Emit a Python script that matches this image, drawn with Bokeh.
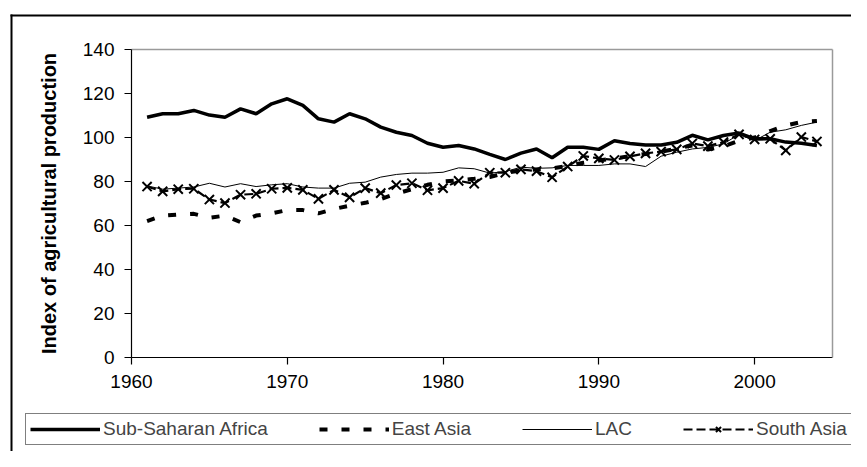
from bokeh.plotting import figure
from bokeh.models import Range1d, Legend, LegendItem, FixedTicker, LinearAxis
from bokeh.embed import file_html
from bokeh.resources import INLINE

years = list(range(1961, 2005))

ssa = [109.2, 110.8, 110.8, 112.3, 110.2, 109.2, 113.0, 110.8, 115.3, 117.6,
       114.6, 108.5, 107.0, 110.8, 108.5, 104.7, 102.4, 100.9, 97.4, 95.6,
       96.4, 94.8, 92.3, 90.0, 92.9, 94.8, 90.8, 95.6, 95.6, 94.6,
       98.5, 97.3, 96.6, 96.6, 97.8, 101.0, 98.9, 100.9, 102.0, 99.4,
       99.4, 97.9, 97.4, 96.4]

east_asia = [62.0, 64.5, 65.0, 65.3, 63.5, 64.5, 61.5, 64.5, 65.5, 67.0,
             67.0, 65.5, 67.5, 69.0, 70.3, 72.0, 74.5, 76.5, 78.5, 80.0,
             80.5, 81.2, 82.0, 84.0, 85.0, 85.5, 86.0, 87.0, 88.5, 89.5,
             90.5, 91.5, 92.5, 93.5, 95.0, 96.4, 94.5, 96.0, 98.5, 100.0,
             102.9, 105.5, 107.0, 107.5]

lac = [78.0, 76.5, 77.0, 77.5, 79.2, 77.5, 79.0, 77.7, 78.5, 79.0,
       77.5, 77.0, 77.0, 79.2, 79.7, 82.0, 83.2, 83.8, 83.8, 84.2,
       86.2, 85.8, 83.8, 84.5, 86.5, 86.0, 86.2, 87.3, 87.3, 87.3,
       88.0, 88.0, 86.8, 91.5, 93.3, 94.8, 95.5, 97.1, 101.4, 98.6,
       102.4, 103.5, 105.5, 107.0]

south_asia = [77.7, 75.5, 76.5, 76.7, 71.8, 70.2, 74.0, 74.4, 76.7, 77.1,
              76.2, 72.1, 76.2, 72.8, 77.0, 74.7, 78.4, 79.2, 76.0, 77.0,
              80.3, 79.0, 84.0, 84.0, 85.5, 84.7, 81.9, 86.8, 91.6, 90.5,
              89.8, 91.4, 92.8, 93.6, 94.6, 97.3, 96.1, 97.9, 101.4, 99.1,
              99.4, 94.1, 100.2, 98.2]

x_ticks = [1960, 1970, 1980, 1990, 2000]
y_ticks = [0, 20, 40, 60, 80, 100, 120, 140]
x_bounds = (1960, 2005)
y_bounds = (0, 140)
y_title = "Index of agricultural production"
series_names = ["Sub-Saharan Africa", "East Asia", "LAC", "South Asia"]

FONT = "Liberation Sans"

# canvas layout (pixels)
W, H = 851, 451
frame_left, frame_right = 131, 832     # pixel x of 1960 and 2005
frame_top, frame_bottom = 49, 357      # pixel y of 140 and 0
xs = (frame_right - frame_left) / (x_bounds[1] - x_bounds[0])
ys = (frame_bottom - frame_top) / (y_bounds[1] - y_bounds[0])
x0 = x_bounds[0] - frame_left / xs
y1 = y_bounds[1] + frame_top / ys
x_range = Range1d(x0, x_bounds[1] + (W - frame_right) / xs)
y_range = Range1d(y_bounds[0] - (H - frame_bottom) / ys, y1)


def px_x(px):
    return x0 + px / xs


def px_y(py):
    return y1 - py / ys


p = figure(width=W, height=H, output_backend="svg", toolbar_location=None,
           title=None, x_range=x_range, y_range=y_range,
           x_axis_location=None, y_axis_location=None,
           min_border=0, min_border_left=0, min_border_right=0,
           min_border_top=0, min_border_bottom=0)
p.grid.visible = False
p.outline_line_color = None
p.background_fill_color = "white"
p.border_fill_color = "white"


def plain_line_axis(color, width, **kw):
    return LinearAxis(ticker=FixedTicker(ticks=[]), axis_line_color=color,
                      axis_line_width=width, major_tick_line_color=None,
                      minor_tick_line_color=None, major_label_text_font_size="0px",
                      **kw)


# outer chart-area border (left and top, the rest is outside the picture)
p.add_layout(plain_line_axis("black", 2, fixed_location=px_x(11),
                             bounds=(y_range.start, px_y(14))), "left")
p.add_layout(plain_line_axis("black", 2, fixed_location=px_y(15),
                             bounds=(px_x(10), x_range.end)), "above")

# gray plot-area border (top and right)
p.add_layout(plain_line_axis("#9a9a9a", 1.5, fixed_location=y_bounds[1],
                             bounds=x_bounds), "above")
p.add_layout(plain_line_axis("#9a9a9a", 1.5, fixed_location=x_bounds[1],
                             bounds=y_bounds), "right")


def styled_axis(**kw):
    ax = LinearAxis(**kw)
    ax.axis_line_color = "black"
    ax.axis_line_width = 1.2
    ax.major_tick_line_color = "black"
    ax.major_tick_line_width = 1.2
    ax.major_tick_out = 7
    ax.major_tick_in = 0
    ax.minor_tick_out = 0
    ax.minor_tick_in = 0
    ax.major_label_text_font = FONT
    ax.major_label_text_font_size = "19px"
    ax.major_label_text_color = "black"
    ax.major_label_standoff = 10
    return ax


xaxis = styled_axis(fixed_location=y_bounds[0], bounds=x_bounds,
                    ticker=FixedTicker(ticks=x_ticks))
yaxis = styled_axis(fixed_location=x_bounds[0], bounds=y_bounds,
                    ticker=FixedTicker(ticks=y_ticks))
yaxis.axis_label = y_title
yaxis.axis_label_text_font = FONT
yaxis.axis_label_text_font_style = "bold"
yaxis.axis_label_text_font_size = "20px"
yaxis.axis_label_text_color = "black"
yaxis.axis_label_standoff = 20
p.add_layout(xaxis, "below")
p.add_layout(yaxis, "left")

r_ssa = p.line(years, ssa, line_color="black", line_width=3.5)
r_ea = p.line(years, east_asia, line_color="black", line_width=4, line_dash="8 14")
r_lac = p.line(years, lac, line_color="black", line_width=1)
r_sa = p.line(years, south_asia, line_color="black", line_width=2.2, line_dash="9 4")
r_sa_m = p.scatter(years, south_asia, marker="x", size=13, line_color="black", line_width=2)

legend = Legend(items=[
    LegendItem(label=series_names[0], renderers=[r_ssa]),
    LegendItem(label=series_names[1], renderers=[r_ea]),
    LegendItem(label=series_names[2], renderers=[r_lac]),
    LegendItem(label=series_names[3], renderers=[r_sa, r_sa_m]),
], orientation="horizontal", location=(25, 6),
    border_line_color="black", border_line_width=1,
    background_fill_color="white", background_fill_alpha=1,
    padding=4, spacing=51, label_standoff=3, glyph_width=70, glyph_height=18,
    label_text_font=FONT, label_text_font_size="19px", margin=0)
p.add_layout(legend, "center")

open("out.html", "w").write(file_html(p, INLINE))
